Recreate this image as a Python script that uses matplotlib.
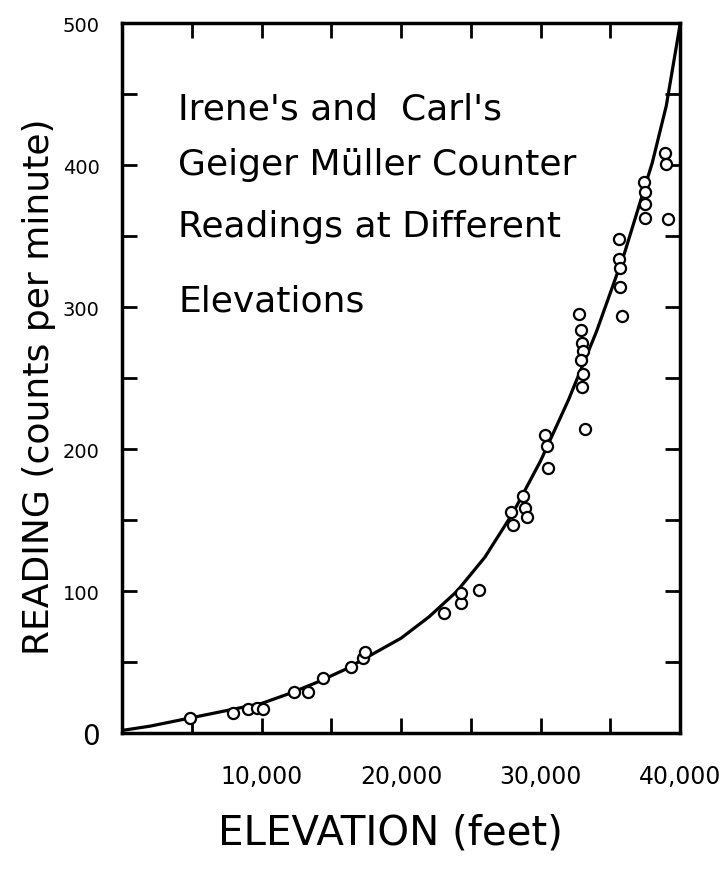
import matplotlib
matplotlib.use('Agg')
import matplotlib.pyplot as plt
import numpy as np

# counter readings (elevation in feet, counts per minute)
elevation = [4900, 7950, 9050, 9700, 10100, 12300, 13350, 14400, 16400, 17300,
             17400, 23100, 24300, 24300, 25600, 27900, 28050, 28750, 28850, 29000,
             30300, 30450, 30550, 32750, 32900, 32950, 33000, 32900, 33050, 32950,
             33150, 35600, 35600, 35700, 35700, 35800, 37400, 37450, 37450, 37450,
             38900, 39000, 39100]
reading = [11, 14, 17, 18, 17, 29, 29, 39, 47, 53,
           57, 85, 92, 99, 101, 156, 147, 167, 159, 152,
           210, 202, 187, 295, 284, 275, 269, 263, 253, 244,
           214, 348, 334, 328, 314, 294, 388, 381, 373, 363,
           409, 401, 362]

# hand drawn trend curve
curve_x = [0, 2000, 4000, 6000, 8000, 10000, 12000, 14000, 16000, 18000, 20000,
           22000, 24000, 26000, 28000, 30000, 32000, 34000, 36000, 38000, 39000, 40000]
curve_y = [2, 5, 9, 13, 17, 21, 28, 36, 45, 56, 67,
           82, 100, 124, 155, 192, 235, 283, 338, 402, 442, 500]

x_ticks = list(range(0, 40001, 5000))
x_labels = ['', '', '10,000', '', '20,000', '', '30,000', '', '40,000']
y_ticks = list(range(0, 501, 50))
y_labels = ['0', '', '100', '', '200', '', '300', '', '400', '', '500']

title_lines = ["Irene's and  Carl's", 'Geiger Müller Counter',
               'Readings at Different', 'Elevations']

fig = plt.figure(figsize=(7.26, 8.70), dpi=100)
ax = fig.add_axes([0.168, 0.156, 0.769, 0.816])

ax.plot(curve_x, curve_y, 'k-', lw=2.3, zorder=2)
ax.plot(elevation, reading, 'o', ms=8, mfc='white', mec='black', mew=1.6, zorder=3)

ax.set_xlim(0, 40000)
ax.set_ylim(0, 500)

ax.set_xticks(x_ticks)
ax.set_xticklabels(x_labels, fontsize=17)
ax.set_yticks(y_ticks)
ax.set_yticklabels(y_labels, fontsize=14)
ax.get_yticklabels()[0].set_fontsize(20)
ax.tick_params(axis='both', direction='in', top=True, right=True,
               length=11, width=2)
ax.tick_params(axis='x', pad=22)
ax.tick_params(axis='y', pad=16)
for sp in ax.spines.values():
    sp.set_linewidth(2.5)

ax.set_xlabel('ELEVATION (feet)', fontsize=29)
ax.xaxis.set_label_coords(0.48, -0.112)
ax.set_ylabel('READING (counts per minute)', fontsize=26)
ax.yaxis.set_label_coords(-0.118, 0.49)

# title written inside the plot, one line at a time
baselines = [120, 175, 237, 312]
for line, yb in zip(title_lines, baselines):
    fig.text(178 / 726, 1 - yb / 870, line, fontsize=26, ha='left', va='baseline')

fig.savefig('out.png', dpi=100)
